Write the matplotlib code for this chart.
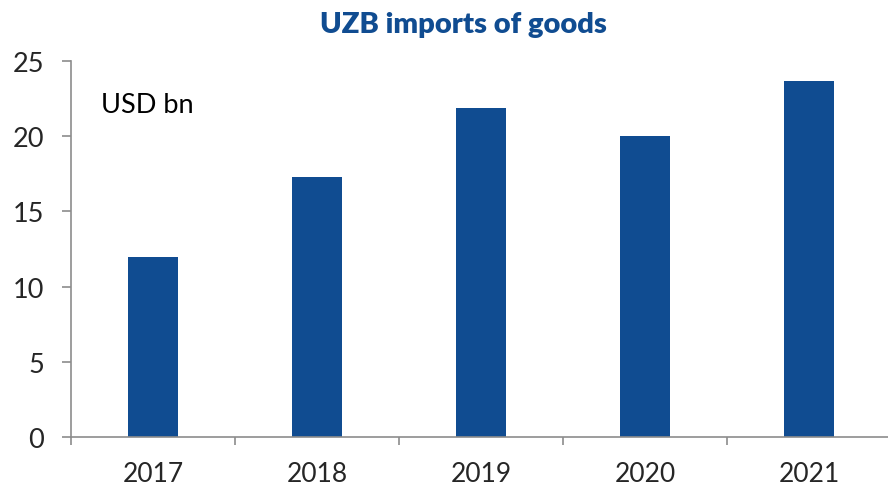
import matplotlib
matplotlib.use("Agg")
import matplotlib.pyplot as plt
import numpy as np

years = ["2017", "2018", "2019", "2020", "2021"]
imports = [12.0, 17.3, 21.9, 20.0, 23.7]
title = "UZB imports of goods"
unit_label = "USD bn"

plt.rcParams['font.family'] = ['Lato', 'DejaVu Sans']

fig = plt.figure(figsize=(8.88, 4.89), dpi=100)
ax = fig.add_axes([71/888, 51/489, 820/888, 376/489])

x = np.arange(len(years))
ax.bar(x, imports, width=0.31, color="#104C91", zorder=2)

ax.set_xlim(-0.5, 4.5)
ax.set_ylim(0, 25)
ax.set_yticks([0, 5, 10, 15, 20, 25])

for s in ["top", "right"]:
    ax.spines[s].set_visible(False)
for s in ["left", "bottom"]:
    ax.spines[s].set_color("#8C8C8C")
    ax.spines[s].set_linewidth(1.2)

ax.set_xticks(np.arange(-0.5, 4.6, 1.0))
ax.set_xticklabels([])
ax.set_xticks(x, minor=True)
ax.set_xticklabels(years, minor=True)
ax.tick_params(axis="x", which="major", direction="out", length=6, width=1.2, color="#8C8C8C")
ax.tick_params(axis="x", which="minor", length=0, pad=17, labelsize=19, labelcolor="#262626")
ax.tick_params(axis="y", direction="out", length=6.5, width=1.2, color="#8C8C8C",
               pad=13, labelsize=19.5, labelcolor="#262626")

ax.text(0.037, 0.885, unit_label, transform=ax.transAxes, fontsize=19.5, color="black",
        ha="left", va="center")

fig.text(463/888, 1 - 25/489, title, ha="center", va="center", fontsize=21,
         fontweight="heavy", color="#104C91")

fig.savefig("out.png", dpi=100)
